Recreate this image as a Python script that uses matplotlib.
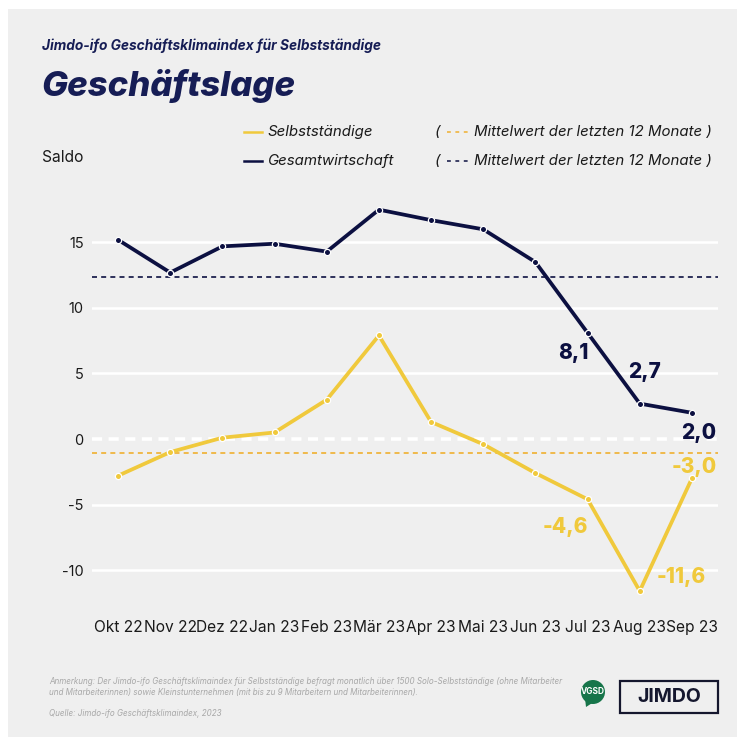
import numpy as np
import matplotlib
matplotlib.use("Agg")
import matplotlib.pyplot as plt
from matplotlib.lines import Line2D
from matplotlib.patches import Rectangle, Ellipse, Polygon

# Daten
monate = ['Okt 22', 'Nov 22', 'Dez 22', 'Jan 23', 'Feb 23', 'Mär 23',
          'Apr 23', 'Mai 23', 'Jun 23', 'Jul 23', 'Aug 23', 'Sep 23']
gesamtwirtschaft = [15.2, 12.7, 14.7, 14.9, 14.3, 17.5, 16.7, 16.0, 13.5, 8.1, 2.7, 2.0]
selbststaendige = [-2.8, -1.0, 0.1, 0.5, 3.0, 7.9, 1.3, -0.4, -2.6, -4.6, -11.6, -3.0]
y_ticks = [-10, -5, 0, 5, 10, 15]

NAVY = '#0c1041'
TITLE = '#161d55'
GELB = '#f0c93c'
GRAU_BG = '#efefef'

W = 737.0


def fx(x):
    return x / W


def fy(y):
    return 1 - y / W


plt.rcParams['font.family'] = ['Inter', 'DejaVu Sans']
plt.rcParams['axes.unicode_minus'] = False

fig = plt.figure(figsize=(7.37, 7.37), dpi=100, facecolor='white')
fig.patches.append(Rectangle((fx(8), 0), 1, fy(9), transform=fig.transFigure,
                             facecolor=GRAU_BG, edgecolor='none', zorder=-5))

ax = fig.add_axes([fx(92), fy(612), 626 / W, 422 / W])
ax.set_facecolor('none')
for s in ax.spines.values():
    s.set_visible(False)

x = np.arange(len(monate))

# Gitterlinien
ax.set_yticks(y_ticks)
ax.grid(axis='y', color='white', linewidth=1.8, zorder=0)
for val, gl in zip(y_ticks, ax.get_ygridlines()):
    if val == 0:
        gl.set_linestyle((0, (2.8, 1.8)))
        gl.set_linewidth(2.6)

# Mittelwerte der letzten 12 Monate
ax.axhline(np.mean(gesamtwirtschaft), color=NAVY, lw=1.2, ls=(0, (3, 2.5)), zorder=1)
ax.axhline(np.mean(selbststaendige), color='#f0b030', lw=1.2, ls=(0, (3, 2.5)), zorder=1)

ax.plot(x, gesamtwirtschaft, color=NAVY, lw=2.7, marker='o', ms=4.5,
        mfc=NAVY, mec='white', mew=0.9, zorder=3, solid_capstyle='butt')
ax.plot(x, selbststaendige, color=GELB, lw=2.7, marker='o', ms=4.5,
        mfc=GELB, mec='white', mew=0.9, zorder=3, solid_capstyle='butt')

ax.set_xlim(-0.5, 11.5)
ax.set_ylim(-13.2, 19)
ax.set_xticks(x)
ax.set_xticklabels(monate)
ax.tick_params(axis='x', length=0, pad=6, labelsize=11.2, labelcolor='#1a1a1a')
ax.tick_params(axis='y', length=0, pad=6, labelsize=10.5, labelcolor='#1a1a1a')

# Datenbeschriftungen der letzten Monate
def fmt(v):
    return f'{v:.1f}'.replace('.', ',')

beschriftung = [
    (9, gesamtwirtschaft, NAVY, (-14, -20)),
    (10, gesamtwirtschaft, NAVY, (5, 32)),
    (11, gesamtwirtschaft, NAVY, (7, -20)),
    (9, selbststaendige, GELB, (-22, -28)),
    (10, selbststaendige, GELB, (42, 14)),
    (11, selbststaendige, GELB, (2, 11)),
]
for i, serie, col, off in beschriftung:
    ax.annotate(fmt(serie[i]), (x[i], serie[i]), xytext=off, textcoords='offset pixels',
                ha='center', va='center', fontsize=15, fontweight='heavy', color=col, zorder=5)

# Titel
fig.text(fx(42), fy(46), 'Jimdo-ifo Geschäftsklimaindex für Selbstständige', fontsize=9.9,
         fontweight='bold', style='italic', color=TITLE, va='center')
fig.text(fx(41), fy(86), 'Geschäftslage', fontsize=25, fontweight='heavy', style='italic',
         color=TITLE, va='center')
fig.text(fx(42), fy(157), 'Saldo', fontsize=11.2, color='#1a1a1a', va='center')

# Legende
for yy, col, lab, mcol in [(132, GELB, 'Selbstständige', '#f0b030'),
                           (161, NAVY, 'Gesamtwirtschaft', NAVY)]:
    fig.add_artist(Line2D([fx(244), fx(262)], [fy(yy), fy(yy)], color=col, lw=1.8,
                          transform=fig.transFigure))
    fig.text(fx(268), fy(yy), lab, fontsize=10.8, style='italic', color='#1a1a1a', va='center')
    fig.text(fx(435), fy(yy), '(', fontsize=10.8, style='italic', color='#1a1a1a', va='center')
    fig.add_artist(Line2D([fx(447), fx(470)], [fy(yy), fy(yy)], color=mcol, lw=1.1,
                          ls=(0, (2.5, 3)), transform=fig.transFigure))
    fig.text(fx(474), fy(yy), 'Mittelwert der letzten 12 Monate )', fontsize=10.8,
             style='italic', color='#1a1a1a', va='center')

# Fußnote
fig.text(fx(49), fy(681), 'Anmerkung: Der Jimdo-ifo Geschäftsklimaindex für Selbstständige befragt monatlich über 1500 '
         'Solo-Selbstständige (ohne Mitarbeiter', fontsize=5.8, style='italic', color='#a8a8a8', va='center')
fig.text(fx(49), fy(692), 'und Mitarbeiterinnen) sowie Kleinstunternehmen (mit bis zu 9 Mitarbeitern und '
         'Mitarbeiterinnen).', fontsize=5.8, style='italic', color='#a8a8a8', va='center')
fig.text(fx(49), fy(714), 'Quelle: Jimdo-ifo Geschäftsklimaindex, 2023', fontsize=5.8,
         style='italic', color='#a8a8a8', va='center')

# Logos
gruen = '#17754a'
fig.patches.append(Ellipse((fx(593), fy(692)), 24 / W, 24 / W, transform=fig.transFigure,
                           facecolor=gruen, edgecolor='none'))
fig.patches.append(Polygon([(fx(585), fy(698)), (fx(597), fy(700)), (fx(586), fy(707))],
                           closed=True, transform=fig.transFigure, facecolor=gruen, edgecolor='none'))
fig.text(fx(593), fy(691), 'VGSD', fontsize=6, fontweight='bold', color='white',
         ha='center', va='center', fontstretch='condensed')
fig.patches.append(Rectangle((fx(620), fy(713)), 98 / W, 32 / W, transform=fig.transFigure,
                             facecolor='none', edgecolor='#15172e', lw=1.6))
fig.text(fx(669), fy(697), 'JIMDO', fontsize=14, fontweight='bold', color='#15172e',
         ha='center', va='center')

fig.savefig('out.png', dpi=100, facecolor=fig.get_facecolor())
